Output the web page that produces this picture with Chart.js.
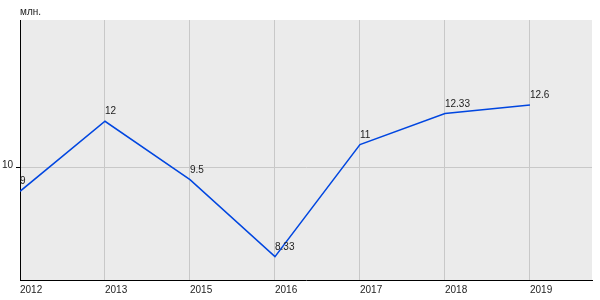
<!DOCTYPE html>
<html>
<head>
<meta charset="utf-8">
<script src="https://cdn.jsdelivr.net/npm/chart.js@4"></script>
<style>
  html, body { margin: 0; padding: 0; background: #fff; }
  #wrap { width: 600px; height: 300px; }
</style>
</head>
<body>
<div id="wrap"><canvas id="chart" width="600" height="300"></canvas></div>
<script>
const years = ['2012', '2013', '2015', '2016', '2017', '2018', '2019'];
const values = [9, 12, 9.5, 6.2, 11, 12.33, 12.7];
const pointLabels = ['9', '12', '9.5', '8.33', '11', '12.33', '12.6'];
const yTicks = [10];
const unitLabel = 'млн.';

const fontFamily = '"Liberation Sans", Arial, sans-serif';

const areaBg = {
  id: 'areaBg',
  beforeDraw(chart) {
    const { ctx, chartArea: a } = chart;
    ctx.save();
    ctx.fillStyle = '#ebebeb';
    ctx.fillRect(a.left, a.top, a.right - a.left, a.bottom - a.top);
    ctx.restore();
  }
};

const textBits = {
  id: 'textBits',
  afterDatasetsDraw(chart) {
    const ctx = chart.ctx;
    ctx.save();
    ctx.font = '10px ' + fontFamily;
    ctx.fillStyle = '#222';
    ctx.textAlign = 'left';
    ctx.textBaseline = 'alphabetic';
    chart.getDatasetMeta(0).data.forEach((pt, i) => {
      ctx.fillText(pointLabels[i], pt.x, pt.y - 7);
    });
    ctx.fillText(unitLabel, 20, 15);
    ctx.restore();
  }
};

new Chart(document.getElementById('chart'), {
  type: 'line',
  data: {
    datasets: [{
      data: values.map((v, i) => ({ x: i, y: v })),
      borderColor: '#0046e0',
      borderWidth: 1.5,
      pointRadius: 0,
      tension: 0,
      fill: false
    }]
  },
  options: {
    responsive: false,
    animation: false,
    layout: { padding: { top: 20, right: 8, left: 0, bottom: 0 } },
    plugins: { legend: { display: false }, tooltip: { enabled: false } },
    scales: {
      x: {
        type: 'linear',
        min: 0,
        max: 6.73,
        afterBuildTicks(scale) {
          scale.ticks = years.map((y, i) => ({ value: i }));
        },
        afterFit(scale) { scale.height = 20; },
        grid: { color: '#c8c8c8', drawTicks: false },
        border: { color: '#000', width: 1 },
        ticks: {
          align: 'start',
          padding: 4,
          color: '#222',
          font: { size: 10, family: fontFamily },
          maxRotation: 0,
          autoSkip: false,
          callback: (v) => years[v]
        }
      },
      y: {
        min: 5.2,
        max: 16.34,
        afterBuildTicks(scale) {
          scale.ticks = yTicks.map(v => ({ value: v }));
        },
        afterFit(scale) { scale.width = 20; },
        grid: { color: '#c8c8c8', tickLength: 4, tickColor: '#000' },
        border: { color: '#000', width: 1 },
        ticks: {
          padding: 3,
          labelOffset: -3,
          color: '#222',
          font: { size: 10, family: fontFamily }
        }
      }
    }
  },
  plugins: [areaBg, textBits]
});
</script>
</body>
</html>
